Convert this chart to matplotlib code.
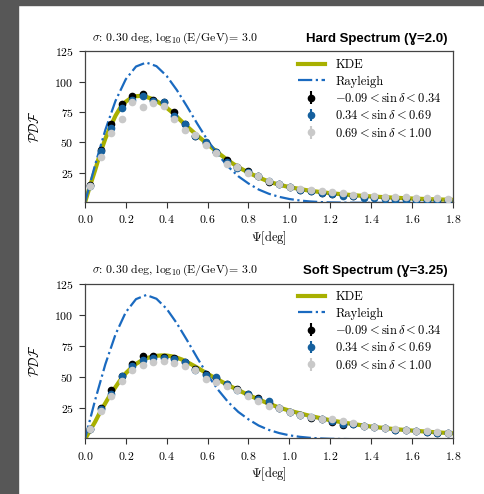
import numpy as np
import matplotlib
matplotlib.use("Agg")
import matplotlib.pyplot as plt
from matplotlib.patches import Rectangle

plt.rcParams['font.family'] = ['cmr10', 'DejaVu Serif']
plt.rcParams['mathtext.fontset'] = 'cm'
plt.rcParams['axes.formatter.use_mathtext'] = True

# Psi grid for the smooth curves [deg]
curve_x = [0.0, 0.025, 0.05, 0.075, 0.1, 0.125, 0.15, 0.175, 0.2, 0.225, 0.25, 0.275,
           0.3, 0.325, 0.35, 0.375, 0.4, 0.425, 0.45, 0.475, 0.5, 0.55, 0.6, 0.65,
           0.7, 0.75, 0.8, 0.85, 0.9, 0.95, 1.0, 1.1, 1.2, 1.3, 1.4, 1.5, 1.6, 1.7, 1.8]
kde_hard = [0, 14, 27, 41, 53, 63, 72, 79, 83.5, 86.5, 88, 88.3,
            87.5, 86, 84, 81.5, 78.5, 75, 71, 67, 63, 55.5, 48.5, 41.5,
            35, 29.5, 25, 21, 17.5, 15, 13, 10, 8, 6.5, 5.3, 4.4, 3.6, 3.0, 2.5]
kde_soft = [0, 7, 14, 22, 29, 36, 42, 48, 53, 57, 60.5, 63,
            65, 66.2, 67, 67.3, 67.2, 66.6, 65.5, 64, 62, 57.5, 52.5, 48,
            43.5, 39.5, 35.5, 32, 28.5, 25.5, 23, 18.8, 15.3, 12.5, 10.2, 8.4, 7, 5.8, 4.8]

rayleigh_x = [0.0, 0.05, 0.1, 0.15, 0.2, 0.25, 0.3, 0.35, 0.4, 0.45, 0.5, 0.55, 0.6,
              0.65, 0.7, 0.75, 0.8, 0.85, 0.9, 0.95, 1.0, 1.05, 1.1, 1.15, 1.2, 1.3,
              1.4, 1.5, 1.6, 1.7, 1.8]
rayleigh_y = [0, 31.4, 60.2, 84.3, 102, 112.5, 115.8, 112.8, 104.7, 93, 79.4, 65.2, 51.7,
              40, 30, 22, 16, 11, 7.5, 5, 3.2, 2.0, 1.2, 0.7, 0.4, 0.15,
              0.05, 0, 0, 0, 0]

# histogram bins: 35 bins between 0 and 1.8 deg
bin_edges = np.linspace(0, 1.8, 36)
bin_centers = 0.5 * (bin_edges[1:] + bin_edges[:-1])

hard_low = [14.5, 44, 65.4, 81.4, 88.5, 89.5, 85, 83.5, 75.3, 65, 55.5, 49, 42, 35, 29.2,
            26, 22, 17, 16, 13, 10.4, 9.8, 8.2, 7.5, 6.5, 6, 5, 4.5, 4, 3.3, 3.2, 2.8, 2.8, 2.5, 2.3]
hard_mid = [14, 42.7, 62, 78.5, 85, 88, 84.2, 83, 72, 65, 55.5, 50.5, 42, 33.7, 29,
            25.5, 22, 18, 15.8, 13, 11, 9.5, 8.5, 7.6, 5.8, 5.5, 4.3, 4, 3.5, 2.6, 2.6, 2.3, 2.6, 2.5, 2.5]
hard_high = [14, 37.5, 57.4, 69.3, 83, 79.5, 82, 80, 69.3, 60, 56, 47.5, 40.8, 32.3, 29.2,
             24.5, 22, 18, 15.8, 13, 11.8, 10.6, 9.5, 9, 7.8, 6.6, 6.2, 5.6, 5, 4.8, 5.2, 4, 4.2, 3.8, 3.5]

soft_low = [8.5, 25, 39.2, 50.8, 60.8, 66.7, 66.7, 66.2, 65.6, 62, 56.5, 52.7, 49.5, 44.5, 40,
            36, 33.1, 29.5, 25.2, 22, 19.5, 17, 16, 13.6, 11.8, 12, 10.5, 9.6, 8.8, 7.8, 7.3, 6.5, 5.8, 5.3, 5]
soft_mid = [8.5, 24.4, 36.6, 50.5, 58.7, 63.5, 64.9, 64.9, 64.3, 62.2, 56, 51.9, 50, 44, 39.8,
            36, 32.5, 30.6, 25.2, 22.3, 19.8, 18, 16.5, 14.5, 12.3, 12.2, 10.8, 9.5, 8.8, 7.6, 7.2, 6.7, 6, 5.4, 5]
soft_high = [8, 23, 34.7, 46.5, 55.5, 59.5, 62.2, 63, 61.4, 58.7, 55.5, 48.7, 46, 42.5, 39.8,
             35, 31, 27.1, 25.2, 22.3, 19.8, 18.2, 16.5, 16.3, 14.4, 12.8, 11, 9.6, 9, 8.2, 7.4, 6.9, 6.3, 5.5, 5.3]
point_err = 1.5

dec_labels = [r"$-0.09 < \sin\delta < 0.34$",
              r"$0.34 < \sin\delta < 0.69$",
              r"$0.69 < \sin\delta < 1.00$"]
dec_colors = ["#000000", "#15609e", "#c9c9c9"]
kde_color = "#a8b000"
ray_color = "#1a6ac0"

panels = [
    ("Hard Spectrum (\u0194=2.0)", kde_hard, [hard_low, hard_mid, hard_high]),
    ("Soft Spectrum (\u0194=3.25)", kde_soft, [soft_low, soft_mid, soft_high]),
]
axes_rects = [[0.175, 0.591, 0.759, 0.305], [0.175, 0.1125, 0.759, 0.3135]]

fig = plt.figure(figsize=(4.85, 4.94), dpi=100)
fig.patches.append(Rectangle((0, 0), 18 / 485, 1, transform=fig.transFigure,
                             color="#575757", zorder=-10))
fig.patches.append(Rectangle((0, 1 - 5 / 494), 1, 5 / 494, transform=fig.transFigure,
                             color="#575757", zorder=-10))

for (title, kde, series), rect in zip(panels, axes_rects):
    ax = fig.add_axes(rect)
    ax.plot(curve_x, kde, color=kde_color, lw=3, label="KDE", zorder=2)
    ax.plot(rayleigh_x, rayleigh_y, color=ray_color, lw=1.6, ls="-.", label="Rayleigh", zorder=2)
    for vals, col, lab in zip(series, dec_colors, dec_labels):
        ax.errorbar(bin_centers, vals, yerr=point_err, fmt="o", color=col, ms=4.5,
                    elinewidth=1.5, capsize=0, label=lab, zorder=3)
    ax.set_xlim(0, 1.8)
    ax.set_ylim(0.7, 125)
    ax.set_yticks([25, 50, 75, 100, 125])
    ax.set_xticks(np.arange(0, 1.81, 0.2))
    ax.tick_params(labelsize=8.5, length=4, pad=4, color="#333333")
    for sp in ax.spines.values():
        sp.set_color("#444444")
        sp.set_linewidth(0.9)
    ax.set_xlabel(r"$\Psi$[deg]", fontsize=9, labelpad=3)
    ax.set_ylabel(r"$\mathcal{PDF}$", fontsize=9.5, labelpad=9)
    ax.text(0.019, 1.035, r"$\sigma$: 0.30 deg, $\log_{10}$(E/GeV)= 3.0",
            transform=ax.transAxes, fontsize=8.5, ha="left", va="bottom")
    ax.text(0.986, 1.04, title, transform=ax.transAxes, ha="right", va="bottom",
            fontsize=9.5, fontweight="bold", family=["Liberation Sans", "DejaVu Sans"])
    ax.legend(loc="upper right", frameon=False, fontsize=9, handlelength=2.2,
              labelspacing=0.35, borderaxespad=0.2, bbox_to_anchor=(0.99, 1.0))

fig.savefig("out.png", dpi=100)
